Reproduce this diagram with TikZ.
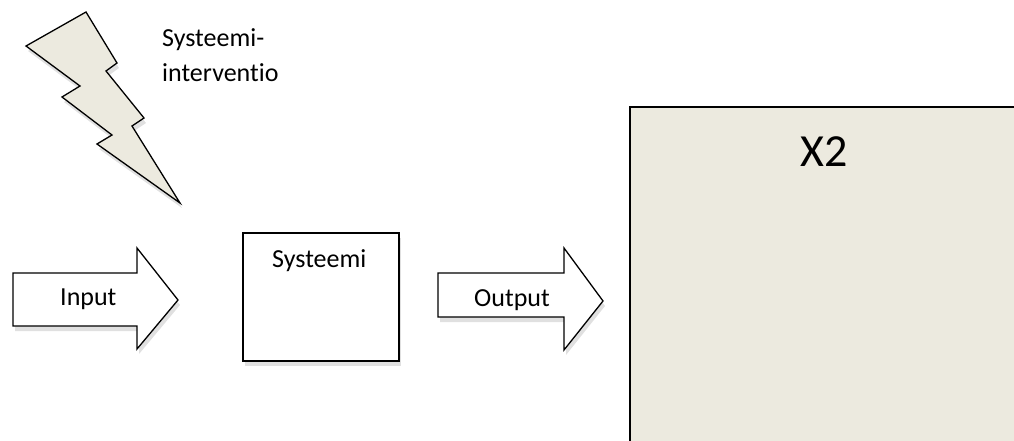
\documentclass[tikz,border=0pt]{standalone}
\usepackage{fontspec}
\setmainfont[Ligatures={NoCommon}]{Carlito}
\usetikzlibrary{shadows}
\definecolor{beige}{RGB}{236,234,223}
\tikzset{
  shp/.style={draw=black, line width=1.3pt, line join=miter,
    drop shadow={shadow xshift=2pt, shadow yshift=-5pt, opacity=0.12, fill=black}},
  lbl/.style={anchor=base west, inner sep=0pt, font=\fontsize{26}{34}\selectfont}
}
\begin{document}
\begin{tikzpicture}[x=1pt,y=-1pt]
\useasboundingbox (0,0) rectangle (1014,441);
% big rectangle
\path[shp, fill=beige] (630,107) rectangle (1030,460);
\node[anchor=base west, inner sep=0pt, font=\fontsize{46}{50}\selectfont] (x2) at (800,166) {X2};
% lightning
\path[shp, fill=beige] (26,46) -- (86,12) -- (117,63) -- (106,71) -- (144,118) -- (132,126)
  -- (180,203) -- (97,144) -- (112,135) -- (62,97) -- (80,86) -- cycle;
\node[lbl] (l1) at (162,47) {Systeemi-};
\node[lbl] (l2) at (162,82) {interventio};
% input arrow
\path[shp, fill=white] (13,273) -- (137,273) -- (137,248) -- (178,300) -- (137,349) -- (137,326) -- (13,326) -- cycle;
\node[lbl] (in) at (60,305) {Input};
% system box
\path[shp, fill=white] (243,233) rectangle (399,361);
\node[lbl] (sys) at (272,267) {Systeemi};
% output arrow
\path[shp, fill=white] (438,273) -- (564,273) -- (564,248) -- (603,301) -- (564,350) -- (564,317) -- (438,317) -- cycle;
\node[lbl] (out) at (474,306) {Output};
\end{tikzpicture}
\end{document}
